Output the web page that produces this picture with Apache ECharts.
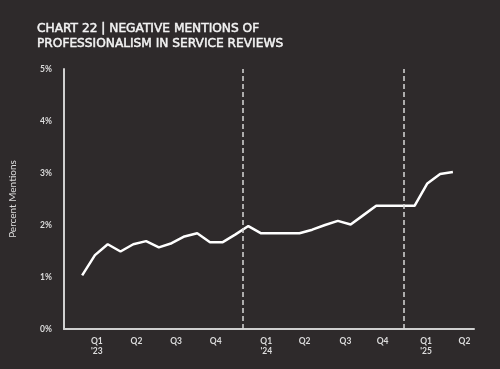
<!DOCTYPE html>
<html>
<head>
<meta charset="utf-8">
<script src="https://cdn.jsdelivr.net/npm/echarts@6/dist/echarts.min.js"></script>
<style>
html,body{margin:0;padding:0;background:#2e2a2b;}
#chart{width:500px;height:369px;}
</style>
</head>
<body>
<div id="chart"></div>
<script>
// Monthly share of negative mentions (Jan 2023 .. Jun 2025), percent
const months = ['2023-01','2023-02','2023-03','2023-04','2023-05','2023-06','2023-07','2023-08','2023-09','2023-10','2023-11','2023-12',
                '2024-01','2024-02','2024-03','2024-04','2024-05','2024-06','2024-07','2024-08','2024-09','2024-10','2024-11','2024-12',
                '2025-01','2025-02','2025-03','2025-04','2025-05','2025-06'];
const percentMentions = [1.03,1.42,1.63,1.49,1.63,1.69,1.57,1.65,1.78,1.84,1.67,1.67,
                         1.82,1.98,1.84,1.84,1.84,1.84,1.91,2.00,2.08,2.01,2.19,2.37,
                         2.37,2.37,2.37,2.80,2.98,3.02];
const quarterLabels = ["Q1\n'23","Q2","Q3","Q4","Q1\n'24","Q2","Q3","Q4","Q1\n'25","Q2"];
const quarterLabelPos = [1.15,4.25,7.35,10.45,14.4,17.4,20.6,23.5,26.9,29.9];
const yearDividers = [12.53,25.15];
const yTicks = [0,1,2,3,4,5];

const chart = echarts.init(document.getElementById('chart'), null, {renderer:'canvas'});
const lineData = percentMentions.map((v,i)=>[i,v]);
chart.setOption({
  backgroundColor:'#2e2a2b',
  animation:false,
  title:{
    text:'CHART 22 | NEGATIVE MENTIONS OF\nPROFESSIONALISM IN SERVICE REVIEWS',
    left:32, top:16,
    textStyle:{color:'#f2f2f2', fontFamily:'DejaVu Sans', fontWeight:'normal', fontSize:12.2, lineHeight:15,
               textBorderColor:'#f2f2f2', textBorderWidth:0.5}
  },
  grid:{left:60, right:26, top:69, bottom:40, containLabel:false},
  xAxis:{
    type:'value', min:-1.42, max:30.65,
    splitLine:{show:false},
    axisLine:{show:true, onZero:false, lineStyle:{color:'#d0d0d0', width:2}},
    axisTick:{show:false},
    axisLabel:{
      customValues:quarterLabelPos,
      formatter:(v)=>{const k=quarterLabelPos.findIndex(p=>Math.abs(p-v)<1e-6);return k>=0?quarterLabels[k]:'';},
      color:'#dcdcdc', fontFamily:'Lato', fontWeight:'bold', fontSize:8.5, lineHeight:10, margin:7
    }
  },
  yAxis:{
    type:'value', min:0, max:5, interval:1,
    name:'Percent Mentions', nameLocation:'middle', nameGap:46, nameRotate:90,
    nameTextStyle:{color:'#dcdcdc', fontFamily:'Lato', fontSize:10},
    splitLine:{show:false},
    axisLine:{show:true, onZero:false, lineStyle:{color:'#d0d0d0', width:2}},
    axisTick:{show:false},
    axisLabel:{formatter:(v)=>v+'%', color:'#dcdcdc', fontFamily:'Lato', fontWeight:'bold', fontSize:8.5, margin:12}
  },
  series:[{
    type:'line',
    data:lineData,
    showSymbol:false,
    lineStyle:{color:'#ffffff', width:2.5},
    markLine:{
      silent:true, symbol:['none','none'],
      label:{show:false},
      lineStyle:{color:'#d8d8d8', type:[5,3], width:1.5},
      data:yearDividers.map(x=>({xAxis:x}))
    }
  }]
});
</script>
</body>
</html>
